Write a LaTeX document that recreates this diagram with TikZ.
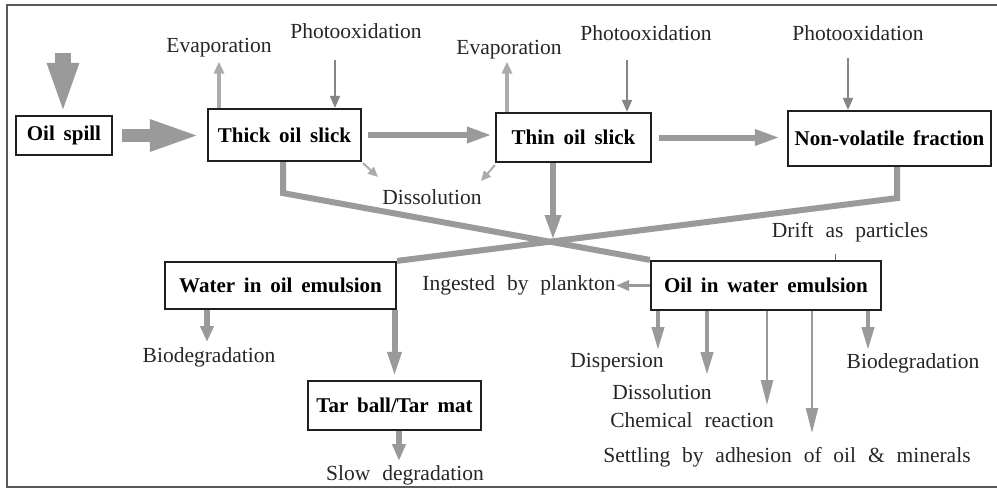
\documentclass[tikz,border=0pt]{standalone}
\usepackage{fontspec}
\setmainfont{Liberation Serif}
\usetikzlibrary{arrows.meta}
\pgfdeclarelayer{bg}
\pgfsetlayers{bg,main}
\definecolor{ag}{HTML}{9A9A9A}
\definecolor{al}{HTML}{ABABAB}
\definecolor{ad}{HTML}{858585}
\newcommand\lblfont{\fontsize{21.5}{24}\selectfont\spaceskip=0.55em plus 0.1em\relax}
\newcommand\boxfont{\fontsize{21}{24}\selectfont\bfseries\spaceskip=0.42em plus 0.1em\relax}
\begin{document}
\begin{tikzpicture}[x=1pt,y=-1pt,
  lbl/.style={inner sep=1pt, text=black!85, font=\lblfont},
  box/.style={draw=black!88, line width=2.2pt, fill=white, inner sep=0pt, text=black, font=\boxfont},
  bigline/.style={draw=ag, line width=6pt, line join=miter},
  evaparrow/.style={draw=al, line width=3.6pt, -{Triangle[length=12pt,width=10pt]}},
  photoarrow/.style={draw=ad, line width=1.6pt, -{Triangle[length=12pt,width=10pt]}},
  dissarrow/.style={draw=al, line width=2pt, -{Triangle[length=10pt,width=9pt]}},
  medarrow/.style={draw=ag, line width=4pt, -{Triangle[length=23pt,width=12pt]}},
  lightarrow/.style={draw=ag, line width=2.4pt, -{Triangle[length=25pt,width=12pt]}},
]
\useasboundingbox (0,0) rectangle (997,490);
% frame
\draw[black!65, line width=2pt] (997,5) -- (7,5) -- (7,487) -- (997,487);

% boxes
\node[box, minimum width=96pt, minimum height=39pt] (os) at (64,135.5) {Oil spill};
\node[box, minimum width=153pt, minimum height=52pt] (thick) at (284.5,135) {Thick oil slick};
\node[box, minimum width=155pt, minimum height=49pt] (thin) at (573.5,137.5) {Thin oil slick};
\node[box, minimum width=203pt, minimum height=55pt] (nv) at (889.5,138.5) {Non-volatile fraction};
\node[box, minimum width=231pt, minimum height=47pt] (wio) at (280.5,285.5) {Water in oil emulsion};
\node[box, minimum width=173pt, minimum height=49pt] (tar) at (394.5,405.5) {Tar ball/Tar mat};
\node[box, minimum width=230pt, minimum height=49pt] (oiw) at (766,285.5) {Oil in water emulsion};

% labels
\node[lbl] (evap1) at (219,48) {Evaporation};
\node[lbl] (photo1) at (356,31) {Photooxidation};
\node[lbl] (evap2) at (509,50) {Evaporation};
\node[lbl] (photo2) at (646,33) {Photooxidation};
\node[lbl] (photo3) at (858,33) {Photooxidation};
\node[lbl] (diss1) at (432,197) {Dissolution};
\node[lbl] (drift) at (850,232) {Drift as particles};
\node[lbl] (ing) at (519,285) {Ingested by plankton};
\node[lbl] (bio1) at (209,357) {Biodegradation};
\node[lbl] (slow) at (405,475) {Slow degradation};
\node[lbl] (disp) at (617,363) {Dispersion};
\node[lbl] (diss2) at (662,392) {Dissolution};
\node[lbl] (chem) at (692,420) {Chemical reaction};
\node[lbl] (settle) at (787,457) {Settling by adhesion of oil \& minerals};
\node[lbl] (bio2) at (913,363) {Biodegradation};

% free ends
\coordinate (src) at (63,53);
\coordinate (p1) at (335,60);
\coordinate (p2) at (627,60);
\coordinate (p3) at (848,58);
\coordinate (d1e) at (378,177);
\coordinate (d2e) at (481,181);
\coordinate (cross) at (553,240);
\coordinate (ingtip) at (616,285.5);
\coordinate (b1tip) at (207,342);
\coordinate (sltip) at (399,461);
\coordinate (o1) at (658,350);
\coordinate (o2) at (707,375);
\coordinate (o3) at (767,405);
\coordinate (o4) at (812,433);
\coordinate (o5) at (868,350);

\begin{pgfonlayer}{bg}
% spill arrows
\draw[draw=ag, line width=16pt, -{Triangle[length=52pt,width=28pt]}] (src) -- (os.north -| src);
\draw[draw=ag, line width=13pt, -{Triangle[length=52pt,width=28pt]}, shorten <=9pt, shorten >=5pt] (os.east) -- (os.east -| thick.west);
\draw[draw=ag, line width=6pt, -{Triangle[length=25pt,width=15pt]}, shorten <=6pt, shorten >=3pt] (thick.east) -- (thick.east -| thin.west);
\draw[draw=ag, line width=6pt, -{Triangle[length=25pt,width=15pt]}, shorten <=7pt, shorten >=7pt] (thin.east) -- (thin.east -| nv.west);

% evaporation / photooxidation
\draw[evaparrow, shorten >=3pt] (thick.north -| evap1) -- (evap1);
\draw[evaparrow, shorten >=1pt] ([xshift=-2pt]thin.north -| evap2) -- ([xshift=-2pt]evap2.south);
\draw[photoarrow] (p1) -- (thick.north -| p1);
\draw[photoarrow] (p2) -- (thin.north -| p2);
\draw[photoarrow] (p3) -- (nv.north -| p3);

% dissolution
\draw[dissarrow] ([shift={(1pt,-1pt)}]thick.south east) -- (d1e);
\draw[dissarrow] ([shift={(0pt,-2pt)}]thin.south west) -- (d2e);

% crossing lines
\draw[bigline] ([xshift=-1.5pt]thick.south) -- ++(0,31) -- (oiw.north west);
\draw[bigline] ([xshift=7.5pt]nv.south) -- ++(0,31) -- (wio.north east);
\draw[draw=ag, line width=6pt, -{Triangle[length=25pt,width=15pt]}] (thin.south -| cross) -- (cross);

% drift tick
\draw[black!60, line width=1pt] ([xshift=69pt]oiw.north) -- ++(0,-6);

% ingested
\draw[draw=ag, line width=3pt, -{Triangle[length=13pt,width=10pt]}] (oiw.west) -- (ingtip);

% water in oil emulsion
\draw[draw=ag, line width=6pt, -{Triangle[length=16pt,width=13pt]}] (wio.south -| b1tip) -- (b1tip);
\draw[draw=ag, line width=6pt, -{Triangle[length=25pt,width=13pt]}, shorten >=3pt] (wio.south -| tar.north) -- (tar.north);
\draw[draw=ag, line width=6pt, -{Triangle[length=17pt,width=13pt]}] (tar.south -| sltip) -- (sltip);

% oil in water emulsion
\draw[medarrow] (oiw.south -| o1) -- (o1);
\draw[medarrow] (oiw.south -| o2) -- (o2);
\draw[lightarrow] (oiw.south -| o3) -- (o3);
\draw[lightarrow] (oiw.south -| o4) -- (o4);
\draw[medarrow] (oiw.south -| o5) -- (o5);
\end{pgfonlayer}
\end{tikzpicture}
\end{document}
